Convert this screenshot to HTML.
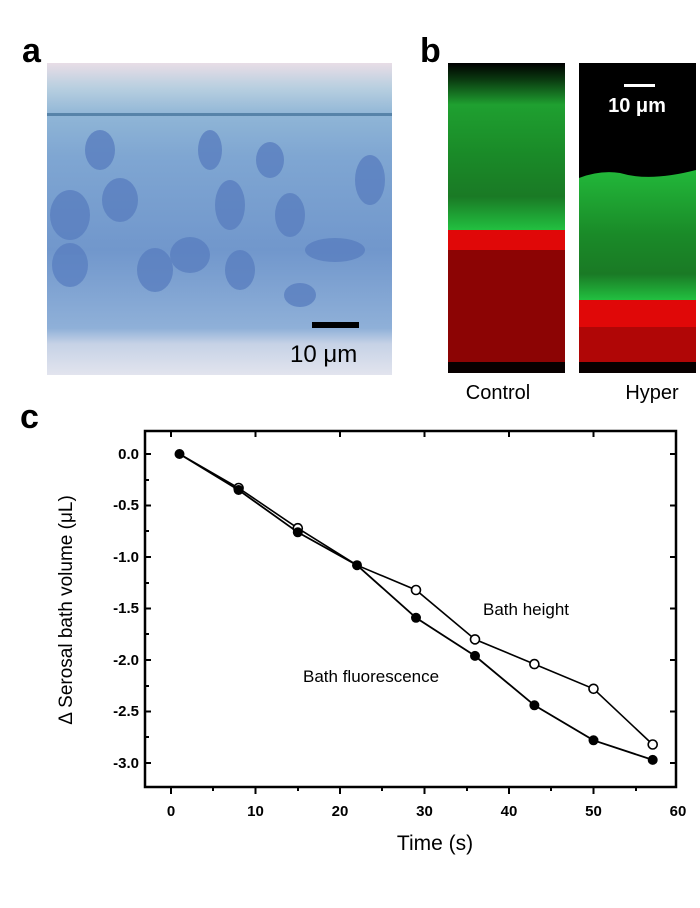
<!DOCTYPE html>
<html><head><meta charset="utf-8"><style>
html,body{margin:0;padding:0;background:#fff;width:700px;height:908px;overflow:hidden}
svg{display:block}
text{font-family:"Liberation Sans",Arial,sans-serif}
</style></head><body>
<svg width="700" height="908" viewBox="0 0 700 908" xmlns="http://www.w3.org/2000/svg">
<defs>
<linearGradient id="ga" x1="0" y1="0" x2="0" y2="1">
<stop offset="0" stop-color="#e8dde6"/><stop offset="0.08" stop-color="#b8cfe0"/>
<stop offset="0.17" stop-color="#8fb5d6"/><stop offset="0.3" stop-color="#7fa6d2"/>
<stop offset="0.6" stop-color="#7197cc"/><stop offset="0.85" stop-color="#8fb0d8"/>
<stop offset="0.9" stop-color="#c6d2e6"/><stop offset="1" stop-color="#e2e4ee"/>
</linearGradient>
<linearGradient id="gc" x1="0" y1="0" x2="0" y2="1">
<stop offset="0" stop-color="#000"/><stop offset="0.1" stop-color="#0a3a10"/>
<stop offset="0.25" stop-color="#1fa030"/><stop offset="0.55" stop-color="#1a8a28"/>
<stop offset="0.8" stop-color="#1a7a25"/><stop offset="1" stop-color="#22c040"/>
</linearGradient>
<linearGradient id="gh" x1="0" y1="0" x2="0" y2="1">
<stop offset="0" stop-color="#22b83a"/><stop offset="0.5" stop-color="#1a8a28"/>
<stop offset="0.8" stop-color="#1a7a25"/><stop offset="1" stop-color="#22c040"/>
</linearGradient>
</defs>
<!-- panel a -->
<text x="22" y="62" font-size="34" font-weight="bold">a</text>
<rect x="47" y="63" width="345" height="312" fill="url(#ga)"/>
<g fill="#5a7fc0" opacity="0.8">
<ellipse cx="70" cy="215" rx="20" ry="25"/><ellipse cx="70" cy="265" rx="18" ry="22"/>
<ellipse cx="120" cy="200" rx="18" ry="22"/><ellipse cx="155" cy="270" rx="18" ry="22"/>
<ellipse cx="190" cy="255" rx="20" ry="18"/><ellipse cx="240" cy="270" rx="15" ry="20"/>
<ellipse cx="230" cy="205" rx="15" ry="25"/><ellipse cx="290" cy="215" rx="15" ry="22"/>
<ellipse cx="335" cy="250" rx="30" ry="12"/><ellipse cx="300" cy="295" rx="16" ry="12"/>
<ellipse cx="370" cy="180" rx="15" ry="25"/><ellipse cx="210" cy="150" rx="12" ry="20"/>
<ellipse cx="100" cy="150" rx="15" ry="20"/><ellipse cx="270" cy="160" rx="14" ry="18"/>
</g>
<rect x="47" y="113" width="345" height="3" fill="#3f6e96" opacity="0.7"/>
<rect x="312" y="322" width="47" height="6" fill="#000"/>
<text x="290" y="362" font-size="24">10 μm</text>
<!-- panel b -->
<text x="420" y="62" font-size="34" font-weight="bold">b</text>
<rect x="448" y="63" width="117" height="167" fill="url(#gc)"/>
<rect x="448" y="230" width="117" height="20" fill="#e00808"/>
<rect x="448" y="250" width="117" height="112" fill="#8c0404"/>
<rect x="448" y="362" width="117" height="11" fill="#080000"/>
<rect x="579" y="63" width="117" height="237" fill="#000"/>
<path d="M579 178 Q600 170 620 173 Q650 182 696 170 L696 300 L579 300 Z" fill="url(#gh)"/>
<rect x="579" y="300" width="117" height="27" fill="#e00808"/>
<rect x="579" y="327" width="117" height="35" fill="#b00606"/>
<rect x="579" y="362" width="117" height="11" fill="#080000"/>
<rect x="624" y="84" width="31" height="3" fill="#fff"/>
<text x="637" y="112" font-size="20" font-weight="bold" fill="#fff" text-anchor="middle">10 μm</text>
<text x="498" y="399" font-size="20" text-anchor="middle">Control</text>
<text x="652" y="399" font-size="20" text-anchor="middle">Hyper</text>
<!-- panel c -->
<text x="20" y="428" font-size="34" font-weight="bold">c</text>
<rect x="145" y="431" width="531" height="356" fill="none" stroke="#000" stroke-width="2.5"/>
<g stroke="#000" stroke-width="2">
<line x1="145" y1="454" x2="151" y2="454"/><line x1="145" y1="505.5" x2="151" y2="505.5"/>
<line x1="145" y1="557" x2="151" y2="557"/><line x1="145" y1="608.5" x2="151" y2="608.5"/>
<line x1="145" y1="660" x2="151" y2="660"/><line x1="145" y1="711.5" x2="151" y2="711.5"/>
<line x1="145" y1="763" x2="151" y2="763"/>
<line x1="670" y1="454" x2="676" y2="454"/><line x1="670" y1="505.5" x2="676" y2="505.5"/>
<line x1="670" y1="557" x2="676" y2="557"/><line x1="670" y1="608.5" x2="676" y2="608.5"/>
<line x1="670" y1="660" x2="676" y2="660"/><line x1="670" y1="711.5" x2="676" y2="711.5"/>
<line x1="670" y1="763" x2="676" y2="763"/>
<line x1="145" y1="480" x2="149" y2="480"/><line x1="145" y1="531" x2="149" y2="531"/>
<line x1="145" y1="583" x2="149" y2="583"/><line x1="145" y1="634" x2="149" y2="634"/>
<line x1="145" y1="686" x2="149" y2="686"/><line x1="145" y1="737" x2="149" y2="737"/>
<line x1="171" y1="787" x2="171" y2="794"/><line x1="255.5" y1="787" x2="255.5" y2="794"/>
<line x1="340" y1="787" x2="340" y2="794"/><line x1="424.5" y1="787" x2="424.5" y2="794"/>
<line x1="509" y1="787" x2="509" y2="794"/><line x1="593.5" y1="787" x2="593.5" y2="794"/>
<line x1="213" y1="787" x2="213" y2="791"/><line x1="298" y1="787" x2="298" y2="791"/>
<line x1="382" y1="787" x2="382" y2="791"/><line x1="467" y1="787" x2="467" y2="791"/>
<line x1="551" y1="787" x2="551" y2="791"/><line x1="636" y1="787" x2="636" y2="791"/>
<line x1="171" y1="431" x2="171" y2="437"/><line x1="255.5" y1="431" x2="255.5" y2="437"/>
<line x1="340" y1="431" x2="340" y2="437"/><line x1="424.5" y1="431" x2="424.5" y2="437"/>
<line x1="509" y1="431" x2="509" y2="437"/><line x1="593.5" y1="431" x2="593.5" y2="437"/>
</g>
<g font-size="15" font-weight="bold" text-anchor="end">
<text x="139" y="459">0.0</text><text x="139" y="510">-0.5</text><text x="139" y="562">-1.0</text>
<text x="139" y="613">-1.5</text><text x="139" y="665">-2.0</text><text x="139" y="716">-2.5</text>
<text x="139" y="768">-3.0</text>
</g>
<g font-size="15" font-weight="bold" text-anchor="middle">
<text x="171" y="816">0</text><text x="255.5" y="816">10</text><text x="340" y="816">20</text>
<text x="424.5" y="816">30</text><text x="509" y="816">40</text><text x="593.5" y="816">50</text>
<text x="678" y="816">60</text>
</g>
<text x="435" y="850" font-size="21" text-anchor="middle">Time (s)</text>
<text transform="translate(72,610) rotate(-90)" font-size="19" text-anchor="middle">Δ Serosal bath volume (μL)</text>
<text x="483" y="615" font-size="17">Bath height</text>
<text x="303" y="682" font-size="17">Bath fluorescence</text>
<polyline fill="none" stroke="#000" stroke-width="1.6" points="179.5,454 238.6,488 297.8,528.2 357,565.2 416,590 475,639.4 534.4,664.1 593.5,688.8 652.7,744.5"/>
<polyline fill="none" stroke="#000" stroke-width="1.8" points="179.5,454 238.6,490 297.8,532.3 357,565.2 416,617.8 475,655.9 534.4,705.3 593.5,740.3 652.7,759.9"/>
<g fill="#fff" stroke="#000" stroke-width="1.6">
<circle cx="238.6" cy="488" r="4.5"/><circle cx="297.8" cy="528.2" r="4.5"/>
<circle cx="416" cy="590" r="4.5"/><circle cx="475" cy="639.4" r="4.5"/>
<circle cx="534.4" cy="664.1" r="4.5"/><circle cx="593.5" cy="688.8" r="4.5"/>
<circle cx="652.7" cy="744.5" r="4.5"/>
</g>
<g fill="#000">
<circle cx="179.5" cy="454" r="5"/><circle cx="238.6" cy="490" r="5"/><circle cx="297.8" cy="532.3" r="5"/>
<circle cx="357" cy="565.2" r="5"/><circle cx="416" cy="617.8" r="5"/><circle cx="475" cy="655.9" r="5"/>
<circle cx="534.4" cy="705.3" r="5"/><circle cx="593.5" cy="740.3" r="5"/><circle cx="652.7" cy="759.9" r="5"/>
</g>
</svg>
</body></html>
